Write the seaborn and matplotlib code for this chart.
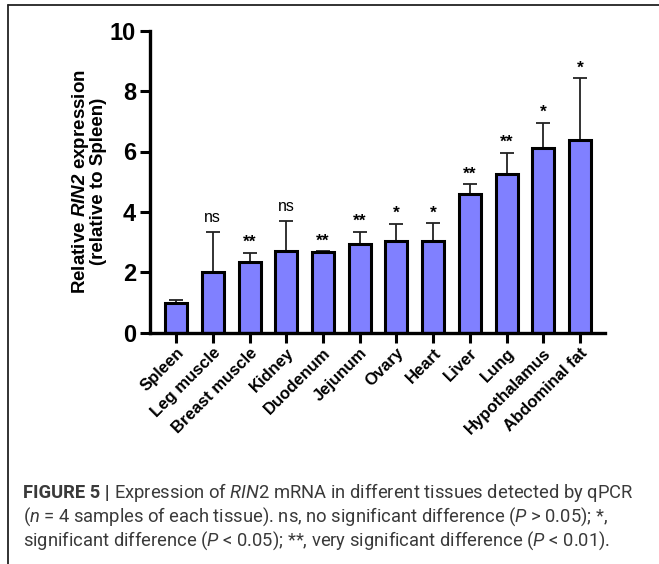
import matplotlib
matplotlib.use("Agg")
import matplotlib.pyplot as plt
import seaborn as sns
import numpy as np
import pandas as pd
from matplotlib.lines import Line2D

tissues = ["Spleen", "Leg muscle", "Breast muscle", "Kidney", "Duodenum", "Jejunum",
           "Ovary", "Heart", "Liver", "Lung", "Hypothalamus", "Abdominal fat"]
means = [0.97, 2.00, 2.33, 2.72, 2.66, 2.94, 3.04, 3.05, 4.58, 5.24, 6.12, 6.37]
err_top = [1.08, 3.34, 2.65, 3.71, 2.70, 3.34, 3.61, 3.62, 4.91, 5.96, 6.95, 8.42]
signif = ["", "ns", "**", "ns", "**", "**", "*", "*", "**", "**", "*", "*"]
yticks = [0, 2, 4, 6, 8, 10]

sns.set_style("ticks")
plt.rcParams['font.family'] = ['Liberation Sans', 'DejaVu Sans']
plt.rcParams['text.color'] = 'black'
plt.rcParams['axes.labelcolor'] = 'black'
plt.rcParams['xtick.color'] = 'black'
plt.rcParams['ytick.color'] = 'black'
plt.rcParams['axes.edgecolor'] = 'black'
plt.rcParams['mathtext.fontset'] = 'custom'
plt.rcParams['mathtext.bf'] = 'Liberation Sans:bold:italic'
plt.rcParams['mathtext.it'] = 'Roboto:italic'
plt.rcParams['mathtext.rm'] = 'Roboto'

W, H = 659, 564
fig = plt.figure(figsize=(W / 100, H / 100), dpi=100)
ax = fig.add_axes([150 / W, 1 - 332.7 / H, (605 - 150) / W, (332.7 - 30.7) / H])

df = pd.DataFrame({"tissue": tissues, "mean": means})
upper = np.array(err_top) - np.array(means)

ax.errorbar(np.arange(len(tissues)), means, yerr=[np.zeros(len(means)), upper],
            fmt="none", ecolor="#222222", elinewidth=1.3, capsize=4.7, capthick=1.3, zorder=1)
sns.barplot(data=df, x="tissue", y="mean", order=tissues, color="#8080FF",
            saturation=1, width=0.6, edgecolor="black", linewidth=2.2,
            errorbar=None, ax=ax, zorder=2)

for i, (t, s) in enumerate(zip(err_top, signif)):
    if not s:
        continue
    if s == "ns":
        ax.annotate(s, (i, t), xytext=(0, 5), textcoords="offset points",
                    ha="center", va="bottom", fontsize=11.5, color="black")
    else:
        ax.annotate(s, (i, t), xytext=(0, 2), textcoords="offset points",
                    ha="center", va="bottom", fontsize=12.5, fontweight="bold",
                    color="black")

ax.set_ylim(0, 10)
ax.set_xlim(-0.71, 11.68)
ax.set_yticks(yticks)
ax.set_yticklabels([str(v) for v in yticks], fontsize=17, fontweight="bold")
ax.set_xticks(range(len(tissues)))
ax.set_xticklabels(tissues, rotation=45, ha="right", rotation_mode="anchor",
                   fontsize=12, fontweight="bold")
ax.tick_params(axis="y", length=7, width=2.2, pad=3)
ax.tick_params(axis="x", length=7, width=2.2, pad=2)
ax.set_xlabel("")
ax.set_ylabel("Relative $\\mathbf{RIN2}$ expression\n(relative to Spleen)",
              fontsize=13.5, fontweight="bold", labelpad=2, linespacing=0.9)
sns.despine(ax=ax)
for sp in ["left", "bottom"]:
    ax.spines[sp].set_linewidth(2.4)

# frame lines (top and left)
fig.add_artist(Line2D([8 / W, 1.0], [1 - 5 / H, 1 - 5 / H], transform=fig.transFigure,
                      color="#222222", linewidth=1.3))
fig.add_artist(Line2D([8 / W, 8 / W], [1 - 5 / H, 0.0], transform=fig.transFigure,
                      color="#222222", linewidth=1.3))

cap_color = "#3a3a3a"
cap_fs = 13.2
cap_family = ['Roboto', 'DejaVu Sans']
x0 = 23 / W
lines = [
    None,
    "($\\mathit{n}$ = 4 samples of each tissue). ns, no significant difference ($\\mathit{P}$ > 0.05); *,",
    "significant difference ($\\mathit{P}$ < 0.05); **, very significant difference ($\\mathit{P}$ < 0.01).",
]
base_y = [498, 522, 546]
t1 = fig.text(x0, 1 - base_y[0] / H, "FIGURE 5 |", fontsize=cap_fs, fontweight="bold",
              color=cap_color, va="baseline", ha="left", family=cap_family)
fig.canvas.draw()
bb = t1.get_window_extent()
fig.text((bb.x1 + 4) / W, 1 - base_y[0] / H,
         "Expression of $\\mathit{RIN2}$ mRNA in different tissues detected by qPCR",
         fontsize=cap_fs, color=cap_color, va="baseline", ha="left", family=cap_family)
for ln, yb in zip(lines[1:], base_y[1:]):
    fig.text(x0, 1 - yb / H, ln, fontsize=cap_fs, color=cap_color, va="baseline",
             ha="left", family=cap_family)

fig.savefig("out.png", dpi=100)
